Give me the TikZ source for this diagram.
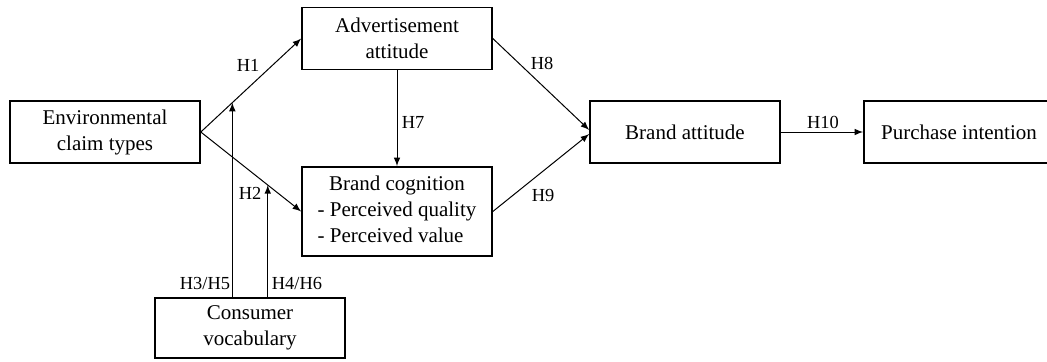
\documentclass[tikz,border=0pt]{standalone}
\usepackage{fontspec}
\setmainfont{Liberation Serif}
\begin{document}
\begin{tikzpicture}[x=0.5pt,y=-0.5pt,>=latex,
  box/.style={draw,line width=0.8pt,minimum width=95pt,minimum height=31pt,
    align=center,inner sep=2pt,font=\fontsize{10.5}{13}\selectfont},
  hyp/.style={font=\fontsize{9.2}{11}\selectfont,inner sep=1pt},
  link/.style={->,line width=0.5pt}]
  \useasboundingbox (0,0) rectangle (1047,361);
  % constructs
  \node[box] (env) at (105,132) {Environmental\\claim types};
  \node[box] (adv) at (397,38.5) {Advertisement\\attitude};
  \node[box,minimum height=44.5pt] (cog) at (397,211.5)
    {\begin{tabular}{@{}l@{}}\multicolumn{1}{@{}c@{}}{Brand cognition}\\- Perceived quality\\- Perceived value\end{tabular}};
  \node[box] (bat) at (685,132) {Brand attitude};
  \node[box] (pur) at (959,132) {Purchase intention};
  \node[box,minimum height=30pt] (voc) at (250,328) {Consumer\\vocabulary};
  % paths
  \draw[link] (env.east) -- (adv.west) coordinate[pos=0.314] (m1);
  \draw[link] (env.east) -- (cog.west) coordinate[pos=0.667] (m2);
  \draw[link] (adv.south) -- (cog.north);
  \draw[link] (adv.east) -- ([yshift=1pt]bat.west);
  \draw[link] (cog.east) -- ([yshift=-1pt]bat.west);
  \draw[link] (bat.east) -- (pur.west);
  % moderation
  \draw[link] (voc.north -| m1) -- (m1);
  \draw[link] (voc.north -| m2) -- (m2);
  % labels
  \node[hyp] (h1) at (248,65) {H1};
  \node[hyp] (h2) at (250,193) {H2};
  \node[hyp] (h35) at (205,283) {H3/H5};
  \node[hyp] (h46) at (297,283) {H4/H6};
  \node[hyp] (h7) at (413,122) {H7};
  \node[hyp] (h8) at (542,63) {H8};
  \node[hyp] (h9) at (543,195) {H9};
  \node[hyp] (h10) at (823,122) {H10};
\end{tikzpicture}
\end{document}
